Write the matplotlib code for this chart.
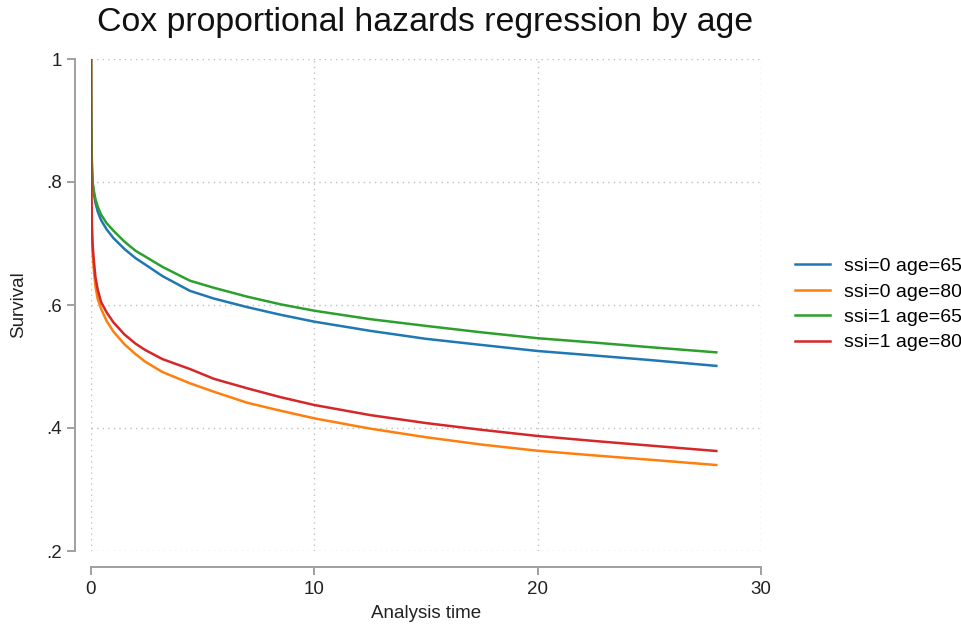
# plot.py
# Cox PH predicted survival curves by ssi and age
import numpy as np
import matplotlib
matplotlib.use('Agg')
import matplotlib.pyplot as plt

plt.rcParams['font.family'] = ['Liberation Sans', 'DejaVu Sans']

# values
t = [0, 0.005, 0.015, 0.04, 0.07, 0.12, 0.2, 0.3, 0.45, 0.7, 1.0, 1.5, 2.0, 2.42, 3.2,
     4.43, 5.5, 7, 8.5, 10, 12.5, 15, 17.5, 20, 22.5, 25, 28]
s_ssi0_65 = [1, 0.94, 0.89, 0.825, 0.80, 0.782, 0.766, 0.752, 0.738, 0.723, 0.709, 0.691, 0.676,
             0.666, 0.647, 0.623, 0.6105, 0.5965, 0.584, 0.5729, 0.558, 0.545, 0.535, 0.5252,
             0.518, 0.5106, 0.501]
s_ssi0_80 = [1, 0.86, 0.78, 0.715, 0.685, 0.660, 0.63, 0.61, 0.594, 0.574, 0.557, 0.536, 0.520,
             0.508, 0.491, 0.4727, 0.459, 0.441, 0.428, 0.4157, 0.399, 0.385, 0.373, 0.363,
             0.3555, 0.3485, 0.3398]
s_ssi1_65 = [1, 0.95, 0.90, 0.83, 0.80, 0.787, 0.772, 0.760, 0.747, 0.733, 0.721, 0.703, 0.688,
             0.679, 0.662, 0.6395, 0.628, 0.6135, 0.601, 0.5907, 0.577, 0.566, 0.5555, 0.546,
             0.539, 0.5315, 0.523]
s_ssi1_80 = [1, 0.87, 0.80, 0.73, 0.70, 0.675, 0.645, 0.625, 0.605, 0.588, 0.572, 0.552, 0.537,
             0.527, 0.512, 0.4959, 0.480, 0.4645, 0.450, 0.4374, 0.421, 0.408, 0.397, 0.387,
             0.379, 0.3715, 0.3626]

series = [s_ssi0_65, s_ssi0_80, s_ssi1_65, s_ssi1_80]
labels = ['ssi=0 age=65', 'ssi=0 age=80', 'ssi=1 age=65', 'ssi=1 age=80']
colors = ['#1f77b4', '#ff7f0e', '#2ca02c', '#d62728']

xticks = [0, 10, 20, 30]
yticks = [0.2, 0.4, 0.6, 0.8, 1.0]
yticklabels = ['.2', '.4', '.6', '.8', '1']

W, H = 961, 631
fig = plt.figure(figsize=(W/100., H/100.), dpi=100)
ax = fig.add_axes([91./W, 1 - 551./H, 670./W, 492./H])

for s, lab, c in zip(series, labels, colors):
    ax.plot(t, s, '-', color=c, lw=1.8, label=lab, solid_joinstyle='round')

ax.set_xlim(0, 30)
ax.set_ylim(0.2, 1.0)
ax.set_xticks(xticks)
ax.set_yticks(yticks)
ax.set_yticklabels(yticklabels)

ax.grid(True, linestyle=(0, (1, 3)), color='#c0c0c0', lw=1.0)

for side in ['top', 'right']:
    ax.spines[side].set_visible(False)
for side in ['left', 'bottom']:
    ax.spines[side].set_position(('outward', 11.5))
    ax.spines[side].set_color('#a0a0a0')
    ax.spines[side].set_linewidth(1.4)
ax.spines['left'].set_bounds(0.2, 1.0)
ax.spines['bottom'].set_bounds(0, 30)

ax.tick_params(axis='both', colors='#a0a0a0', width=1.4, length=6, labelsize=13.5,
               labelcolor='#222222')
ax.tick_params(axis='y', pad=3.5)
ax.tick_params(axis='x', pad=4)

ax.set_xlabel('Analysis time', fontsize=13.5, color='#222222', labelpad=5)
ax.set_ylabel('Survival', fontsize=13.5, color='#222222', labelpad=14)
fig.text(425./W, 1 - 22./H, 'Cox proportional hazards regression by age',
         fontsize=24.4, ha='center', va='center', color='#111111')

ax.legend(loc='center left', bbox_to_anchor=(795./W, 1 - 304.5/H),
          bbox_transform=fig.transFigure, frameon=False, fontsize=14,
          handlelength=1.8, handletextpad=0.7, labelspacing=0.4,
          borderpad=0, borderaxespad=0)

fig.savefig('out.png', dpi=100)
